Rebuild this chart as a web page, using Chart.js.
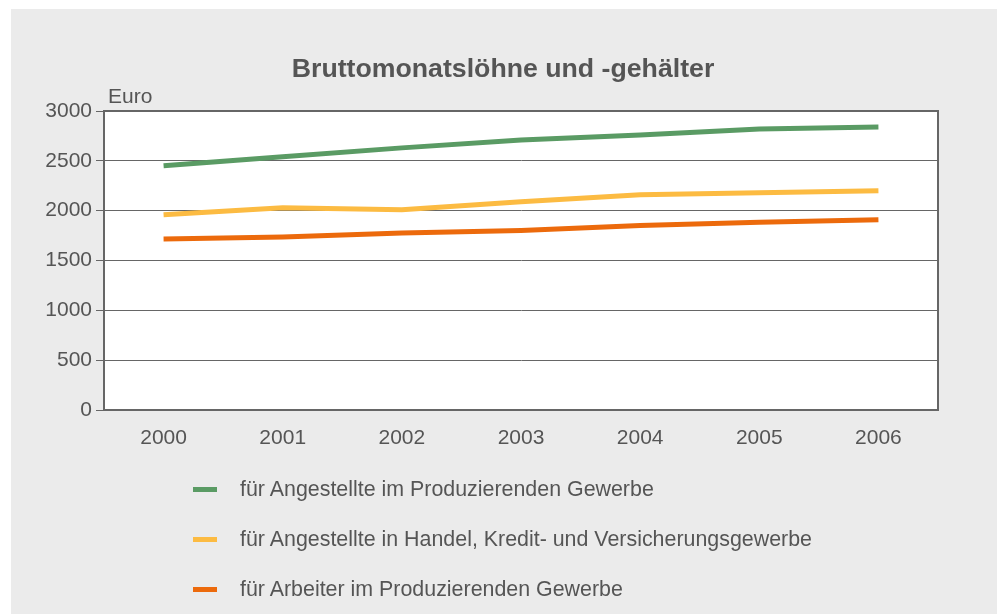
<!DOCTYPE html>
<html>
<head>
<meta charset="utf-8">
<script src="https://cdn.jsdelivr.net/npm/chart.js@4/dist/chart.umd.min.js"></script>
<style>
  html, body { margin: 0; padding: 0; background: #ffffff; }
  #wrap { position: relative; width: 997px; height: 614px; }
  #legend { position: absolute; left: 193px; top: 464px; font-family: 'Liberation Sans', Arial, sans-serif; font-size: 21.4px; color: #555; }
  #legend .item { height: 50px; display: flex; align-items: center; }
  #legend .swatch { width: 24px; height: 5px; margin-right: 23px; }
</style>
</head>
<body>
<div id="wrap">
  <canvas id="myChart" width="997" height="614"></canvas>
  <div id="legend"></div>
</div>
<script>
  let years = ['2000', '2001', '2002', '2003', '2004', '2005', '2006'];
  let angestellteProd = [2450, 2540, 2630, 2710, 2760, 2820, 2840];
  let angestellteHandel = [1960, 2030, 2010, 2090, 2160, 2180, 2200];
  let arbeiterProd = [1715, 1735, 1775, 1800, 1850, 1885, 1910];
  let seriesNames = [
    'für Angestellte im Produzierenden Gewerbe',
    'für Angestellte in Handel, Kredit- und Versicherungsgewerbe',
    'für Arbeiter im Produzierenden Gewerbe'
  ];
  let seriesColors = ['#5a9b64', '#fcbb42', '#ec6a0c'];
  let chartTitle = 'Bruttomonatslöhne und -gehälter';

  let font = "'Liberation Sans', Arial, sans-serif";

  // grey panel, white plot area, frame, title and the "Euro" label
  let plotBox = {
    id: 'plotBox',
    beforeDraw(chart) {
      let c = chart.ctx, a = chart.chartArea;
      c.save();
      c.fillStyle = '#ffffff';
      c.fillRect(0, 0, chart.width, chart.height);
      c.fillStyle = '#ebebeb';
      c.fillRect(11, 9, chart.width - 11, chart.height - 9);
      c.fillStyle = '#ffffff';
      c.fillRect(a.left, a.top, a.right - a.left, a.bottom - a.top);
      c.restore();
    },
    afterDraw(chart) {
      let c = chart.ctx, a = chart.chartArea;
      c.save();
      c.strokeStyle = '#666';
      c.lineWidth = 2;
      c.strokeRect(a.left, a.top, a.right - a.left, a.bottom - a.top);
      c.fillStyle = '#555';
      c.font = '21px ' + font;
      c.textBaseline = 'bottom';
      c.fillText('Euro', a.left + 4, a.top - 3);
      c.font = 'bold 26.7px ' + font;
      c.textAlign = 'center';
      c.textBaseline = 'middle';
      c.fillText(chartTitle, 503, 70);
      c.restore();
    }
  };

  let myChart = document.getElementById('myChart').getContext('2d');

  let lohnChart = new Chart(myChart, {
    type: 'line',
    data: {
      labels: years,
      datasets: [angestellteProd, angestellteHandel, arbeiterProd].map((d, i) => ({
        label: seriesNames[i],
        data: d,
        borderColor: seriesColors[i],
        backgroundColor: seriesColors[i],
        borderWidth: 5,
        pointRadius: 0,
        tension: 0,
      }))
    },
    options: {
      responsive: false,
      animation: false,
      layout: { padding: { left: 0, right: 59, top: 111, bottom: 0 } },
      plugins: {
        legend: { display: false },
        tooltip: { enabled: false },
        title: { display: false }
      },
      scales: {
        x: {
          offset: true,
          grid: { display: false },
          border: { display: true, color: '#666', width: 2 },
          ticks: { color: '#555', font: { family: font, size: 21 }, padding: 8 },
          afterFit(scale) { scale.height = 204; }
        },
        y: {
          min: 0,
          max: 3000,
          ticks: {
            stepSize: 500,
            color: '#555',
            font: { family: font, size: 21 },
            padding: 4,
            callback: v => String(v)
          },
          grid: { color: '#666', tickLength: 8, lineWidth: 1 },
          border: { display: true, color: '#666', width: 2 },
          afterFit(scale) { scale.width = 104; }
        }
      }
    },
    plugins: [plotBox]
  });

  let legendBox = document.getElementById('legend');
  lohnChart.data.datasets.forEach(ds => {
    let row = document.createElement('div');
    row.className = 'item';
    let sw = document.createElement('span');
    sw.className = 'swatch';
    sw.style.background = ds.borderColor;
    let tx = document.createElement('span');
    tx.textContent = ds.label;
    row.appendChild(sw);
    row.appendChild(tx);
    legendBox.appendChild(row);
  });
</script>
</body>
</html>
